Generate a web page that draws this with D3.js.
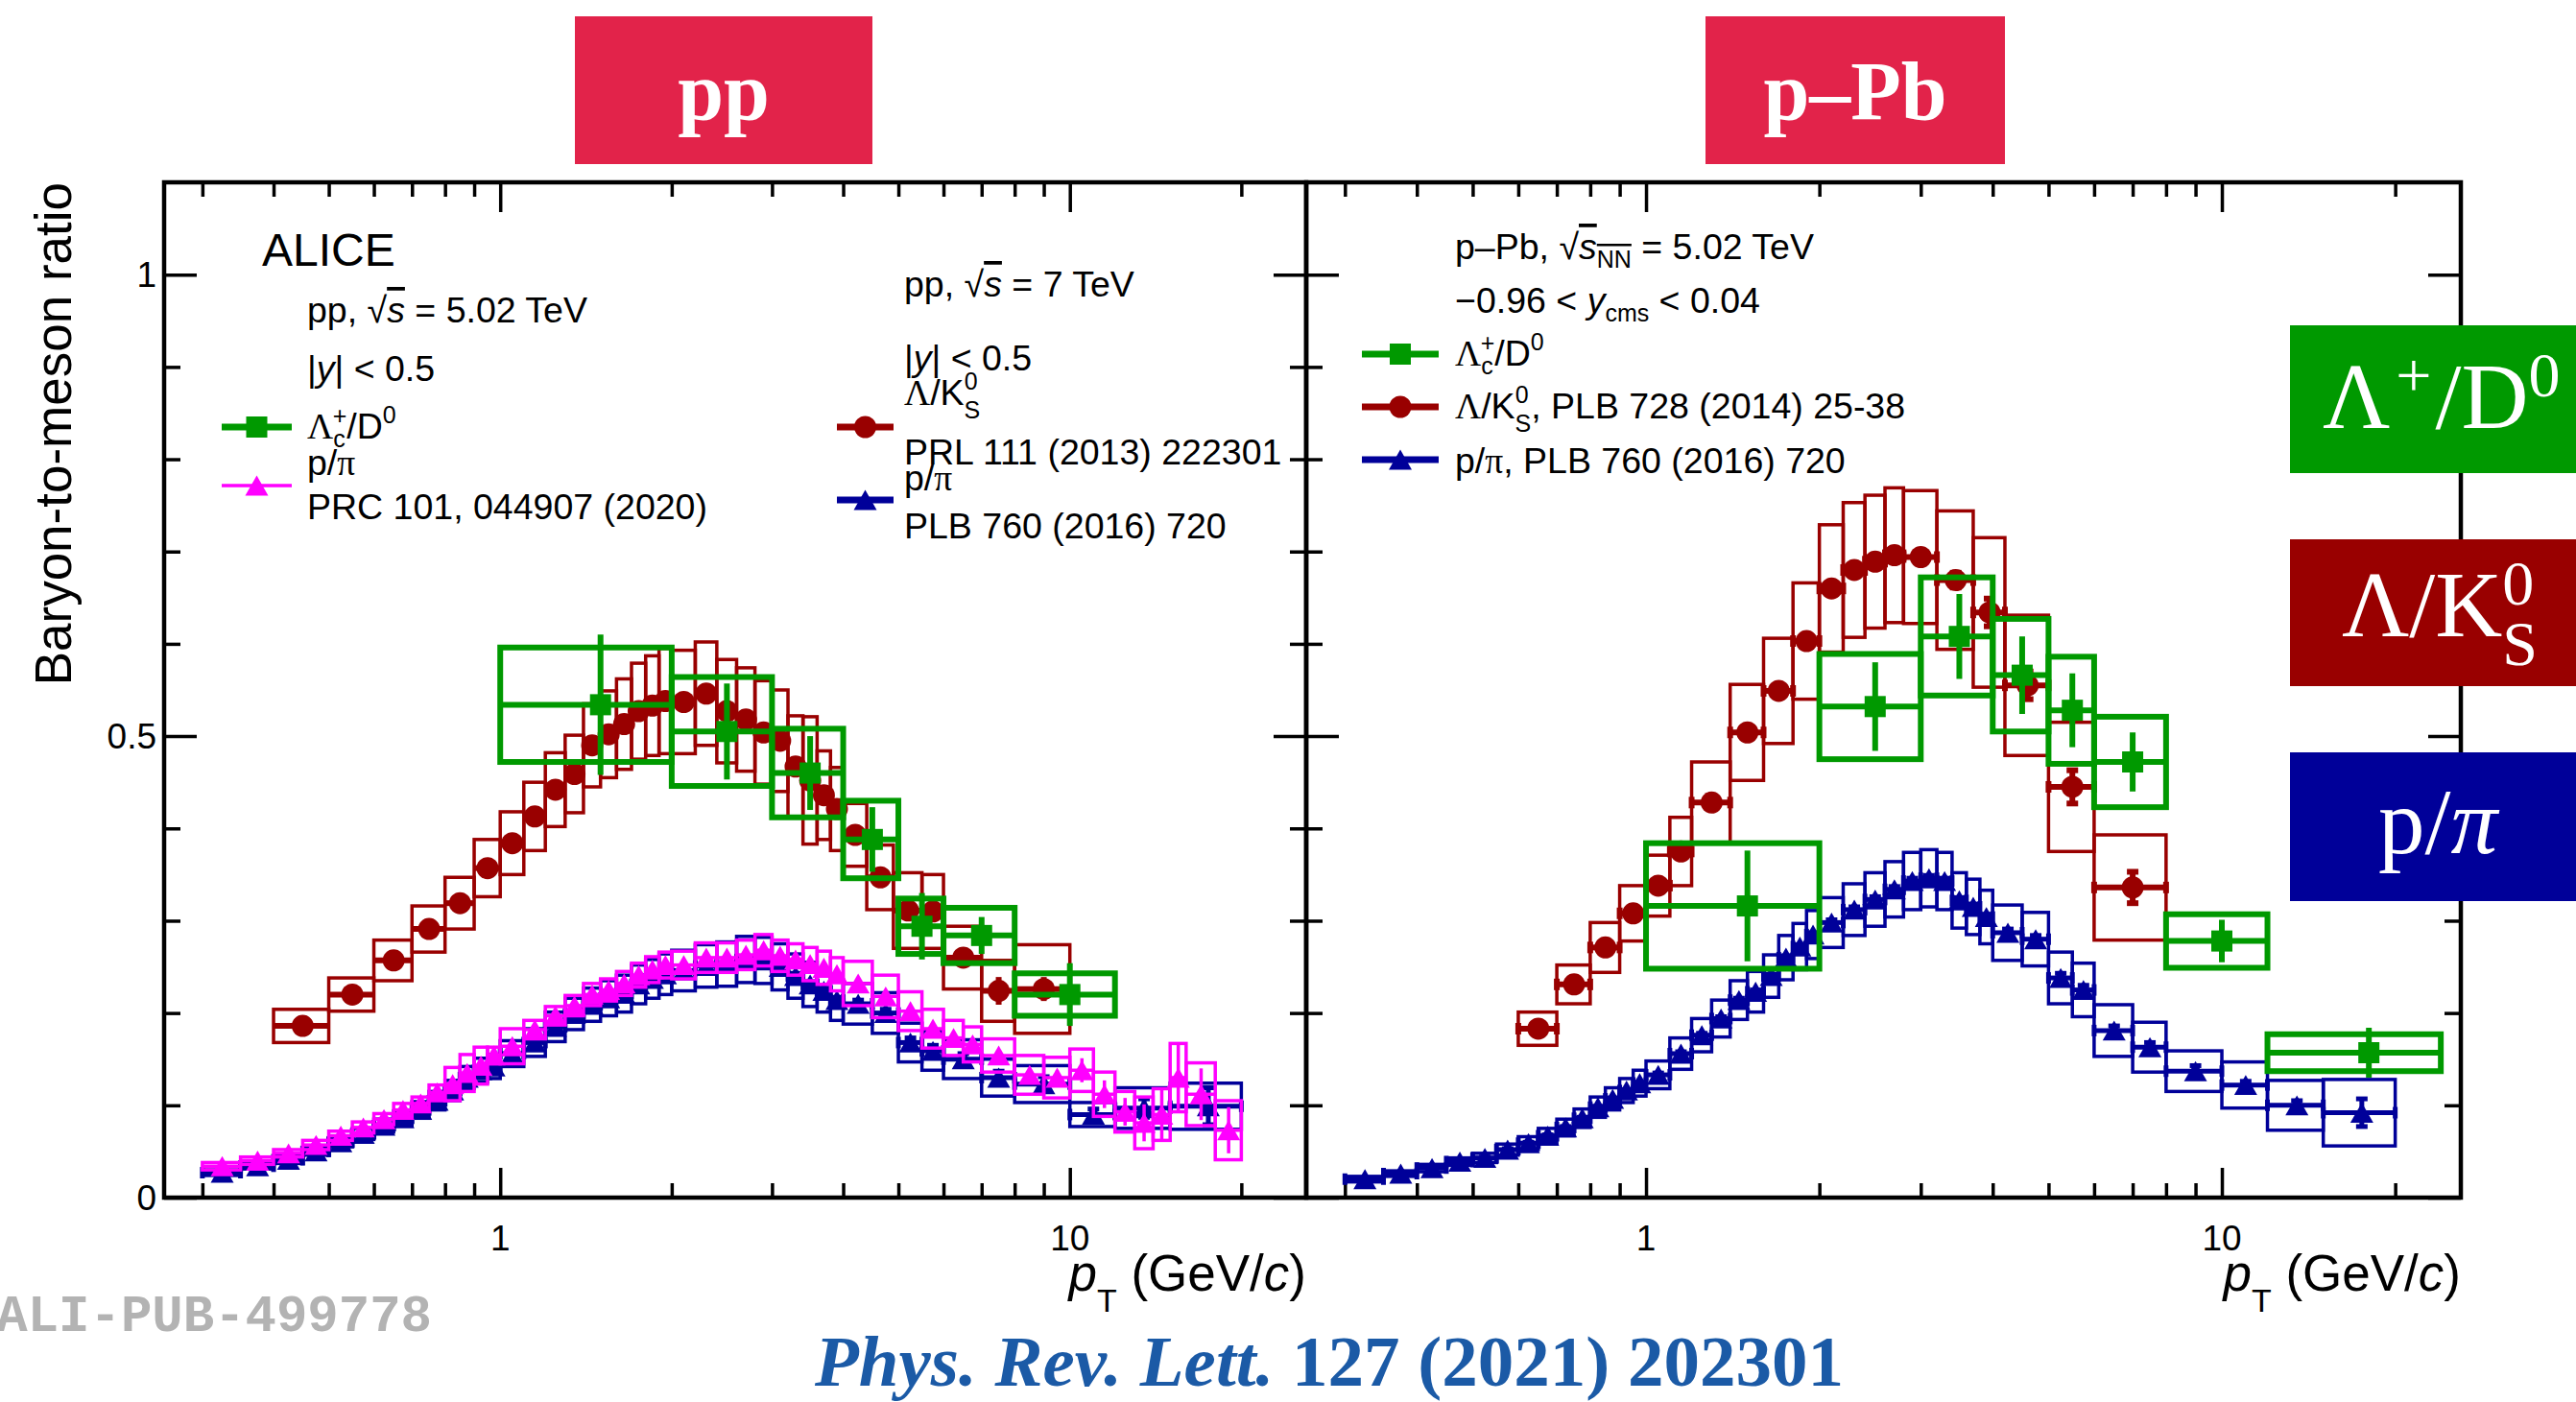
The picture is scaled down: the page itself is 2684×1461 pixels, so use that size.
<!DOCTYPE html>
<html>
<head>
<meta charset="utf-8">
<script src="https://cdn.jsdelivr.net/npm/d3@7"></script>
<style>
body { margin: 0; background: #fff; }
svg { display: block; font-family: "Liberation Sans", Arial, sans-serif; }
</style>
</head>
<body>
<svg id="fig" width="2684" height="1461"></svg>
<script>
// ---- pp 5.02 TeV, Lc+/D0
const ppLcEdges = [1, 2, 3, 4, 5, 6, 8, 12];
const ppLcVal   = [0.534, 0.505, 0.460, 0.388, 0.294, 0.284, 0.220];
const ppLcSys   = [0.062, 0.059, 0.048, 0.042, 0.030, 0.030, 0.023];
const ppLcStat  = [0.076, 0.052, 0.040, 0.035, 0.036, 0.020, 0.034];

// ---- pp 7 TeV, Lambda/K0S (PRL 111 (2013) 222301)
const ppLKEdges = [0.4,0.5,0.6,0.7,0.8,0.9,1.0,1.1,1.2,1.3,1.4,1.5,1.6,1.7,1.8,1.9,2.0,2.2,2.4,2.6,2.8,3.0,3.2,3.4,3.6,3.8,4.0,4.4,4.9,5.5,6.0,7.0,8.0,10.0];
const ppLKVal   = [0.186,0.220,0.257,0.291,0.319,0.357,0.384,0.413,0.442,0.459,0.490,0.502,0.513,0.527,0.533,0.538,0.537,0.546,0.527,0.518,0.504,0.495,0.467,0.452,0.436,0.421,0.393,0.347,0.311,0.310,0.260,0.224,0.226];
const ppLKSys   = [0.018,0.018,0.022,0.025,0.028,0.031,0.034,0.037,0.040,0.042,0.045,0.047,0.049,0.052,0.054,0.057,0.056,0.056,0.056,0.056,0.056,0.055,0.055,0.069,0.048,0.045,0.034,0.035,0.041,0.040,0.034,0.033,0.048];
const ppLKStat  = [0.003,0.003,0.003,0.003,0.003,0.003,0.003,0.003,0.003,0.003,0.003,0.003,0.003,0.003,0.003,0.003,0.003,0.003,0.003,0.004,0.004,0.004,0.004,0.005,0.005,0.005,0.005,0.006,0.007,0.008,0.010,0.015,0.013];

// ---- pp 5.02 TeV, p/pi (PRC 101, 044907 (2020))
const ppPiEdges = [0.3,0.35,0.4,0.45,0.5,0.55,0.6,0.65,0.7,0.75,0.8,0.85,0.9,0.95,1.0,1.1,1.2,1.3,1.4,1.5,1.6,1.7,1.8,1.9,2.0,2.2,2.4,2.6,2.8,3.0,3.2,3.4,3.6,3.8,4.0,4.5,5.0,5.5,6.0,6.5,7.0,8,9,10,11,12,13,14,15,16,18,20];
const ppPiVal   = [0.034,0.040,0.048,0.057,0.067,0.076,0.085,0.095,0.102,0.114,0.123,0.135,0.143,0.154,
                   0.164,0.182,0.197,0.208,0.220,0.225,0.232,0.241,0.247,0.252,
                   0.252,0.260,0.260,0.263,0.268,0.262,0.258,0.253,0.249,0.242,
                   0.232,0.218,0.202,0.183,0.173,0.166,
                   0.154,0.133,0.130,0.138,0.112,0.093,0.081,0.090,0.130,0.112,0.073];
const ppPiSys   = [0.004,0.004,0.004,0.005,0.005,0.006,0.006,0.007,0.007,0.008,0.018,0.020,0.020,0.009,
                   0.019,0.010,0.010,0.011,0.012,0.012,0.013,0.013,0.014,0.014,
                   0.015,0.016,0.016,0.016,0.017,0.017,0.017,0.018,0.018,0.018,
                   0.024,0.023,0.021,0.021,0.019,0.019,
                   0.018,0.021,0.022,0.023,0.024,0.022,0.028,0.028,0.037,0.034,0.032];
const ppPiStat  = [0.001,0.001,0.001,0.001,0.001,0.001,0.001,0.001,0.001,0.001,0.001,0.001,0.001,0.001,
                   0.002,0.002,0.002,0.002,0.002,0.002,0.002,0.002,0.002,0.002,
                   0.002,0.002,0.002,0.002,0.002,0.002,0.002,0.002,0.002,0.002,
                   0.003,0.003,0.003,0.003,0.004,0.004,
                   0.004,0.006,0.008,0.013,0.015,0.015,0.020,0.027,0.036,0.028,0.025];

// ---- pp 7 TeV, p/pi (PLB 760 (2016) 720)
const ppPi7Edges = [0.3,0.35,0.4,0.45,0.5,0.55,0.6,0.65,0.7,0.75,0.8,0.85,0.9,0.95,1.0,1.1,1.2,1.3,1.4,1.5,1.6,1.7,1.8,1.9,2.0,2.2,2.4,2.6,2.8,3.0,3.2,3.4,3.6,3.8,4.0,4.5,5.0,5.5,6.0,7,8,10,12,15,20];
const ppPi7Val   = [0.027,0.034,0.041,0.050,0.060,0.069,0.078,0.086,0.095,0.105,0.116,0.130,0.138,0.142,
                    0.156,0.168,0.185,0.199,0.209,0.216,0.221,0.231,0.237,0.242,
                    0.246,0.251,0.253,0.258,0.257,0.250,0.240,0.231,0.224,0.214,
                    0.210,0.200,0.168,0.159,
                    0.150,0.130,0.123,0.090,0.097,0.099];
const ppPi7Sys   = [0.003,0.003,0.004,0.004,0.005,0.006,0.007,0.008,0.009,0.010,0.011,0.012,0.013,0.013,
                    0.014,0.015,0.016,0.017,0.018,0.019,0.020,0.021,0.021,0.022,
                    0.022,0.023,0.024,0.025,0.025,0.025,0.024,0.024,0.023,0.022,
                    0.022,0.022,0.021,0.021,
                    0.021,0.020,0.020,0.013,0.022,0.025];
const ppPi7Stat  = [0.001,0.001,0.001,0.001,0.001,0.001,0.001,0.001,0.001,0.001,0.001,0.001,0.001,0.001,
                    0.002,0.002,0.002,0.002,0.002,0.002,0.002,0.002,0.002,0.002,
                    0.003,0.003,0.003,0.003,0.003,0.003,0.003,0.003,0.003,0.003,
                    0.004,0.004,0.005,0.006,
                    0.006,0.007,0.008,0.006,0.010,0.020];

// ---- p-Pb 5.02 TeV, Lc+/D0
const pPbLcEdges = [1, 2, 3, 4, 5, 6, 8, 12, 24];
const pPbLcVal   = [0.316, 0.532, 0.608, 0.566, 0.528, 0.472, 0.278, 0.157];
const pPbLcSys   = [0.068, 0.057, 0.064, 0.061, 0.058, 0.049, 0.029, 0.020];
const pPbLcStat  = [0.060, 0.048, 0.046, 0.042, 0.040, 0.032, 0.023, 0.027];

// ---- p-Pb 5.02 TeV, Lambda/K0S (PLB 728 (2014) 25-38)
const pPbLKEdges = [0.6,0.7,0.8,0.9,1.0,1.1,1.2,1.4,1.6,1.8,2.0,2.2,2.4,2.6,2.8,3.2,3.7,4.2,5.0,6.0,8.0];
const pPbLKVal   = [0.183,0.231,0.271,0.308,0.338,0.375,0.428,0.504,0.549,0.603,0.660,0.680,0.689,0.696,0.694,0.669,0.634,0.555,0.445,0.336];
const pPbLKSys   = [0.018,0.021,0.027,0.030,0.033,0.037,0.044,0.052,0.057,0.063,0.069,0.073,0.072,0.073,0.072,0.075,0.081,0.076,0.070,0.057];
const pPbLKStat  = [0.003,0.003,0.003,0.003,0.004,0.004,0.004,0.005,0.005,0.006,0.006,0.006,0.007,0.007,0.007,0.008,0.015,0.015,0.018,0.017];

// ---- p-Pb 5.02 TeV, p/pi (PLB 760 (2016) 720)
const pPbPiEdges = [0.3,0.35,0.4,0.45,0.5,0.55,0.6,0.65,0.7,0.75,0.8,0.85,0.9,0.95,1.0,1.1,1.2,1.3,1.4,1.5,1.6,1.7,1.8,1.9,2.0,2.2,2.4,2.6,2.8,3.0,3.2,3.4,3.6,3.8,4.0,4.5,5.0,5.5,6.0,7,8,10,12,15,20];
const pPbPiVal   = [0.020,0.026,0.032,0.039,0.043,0.052,0.059,0.067,0.076,0.086,0.098,0.107,0.116,0.124,
                    0.133,0.156,0.176,0.194,0.214,0.223,0.240,0.260,0.272,0.285,
                    0.298,0.312,0.323,0.334,0.343,0.346,0.343,0.322,0.315,0.304,
                    0.287,0.280,0.238,0.225,
                    0.181,0.163,0.137,0.122,0.100,0.092];
const pPbPiSys   = [0.003,0.003,0.004,0.004,0.005,0.006,0.007,0.008,0.009,0.010,0.011,0.012,0.013,0.014,
                    0.015,0.017,0.018,0.020,0.021,0.022,0.023,0.024,0.025,0.026,
                    0.027,0.028,0.029,0.030,0.031,0.031,0.031,0.030,0.030,0.029,
                    0.030,0.029,0.028,0.029,
                    0.028,0.027,0.022,0.025,0.027,0.036];
const pPbPiStat  = [0.001,0.001,0.001,0.001,0.001,0.001,0.001,0.001,0.001,0.001,0.001,0.001,0.001,0.001,
                    0.002,0.002,0.002,0.002,0.002,0.002,0.002,0.002,0.002,0.002,
                    0.003,0.003,0.003,0.003,0.003,0.003,0.003,0.003,0.003,0.003,
                    0.004,0.004,0.005,0.005,
                    0.005,0.005,0.006,0.004,0.005,0.015];

// axis ticks
const xMajor = [1, 10];
const xMinor = [0.3,0.4,0.5,0.6,0.7,0.8,0.9,2,3,4,5,6,7,8,9,20];
const yMajor = [0, 0.5, 1];
const yMinor = [0.1,0.2,0.3,0.4,0.6,0.7,0.8,0.9];
const yLabels = ['0', '0.5', '1'];

const GREEN = '#009900', RED = '#990000', BLUE = '#000099', MAG = '#ff00ff';

const svg = d3.select('#fig');
const yTop = 190, yBot = 1248;
const y  = d3.scaleLinear().domain([0, 1.1]).range([yBot, yTop]);
const xL = d3.scaleLog().domain([0.257, 26]).range([171, 1361]);
const xR = d3.scaleLog().domain([0.257, 26]).range([1361, 2564]);

function symPath(type, s) {
    if (type === 'circle') return d3.symbol(d3.symbolCircle, Math.PI * s * s)();
    if (type === 'square') return d3.symbol(d3.symbolSquare, s * s)();
    const h = s * 0.87, w = s / 2;
    return 'M0,' + (-h / 2) + 'L' + w + ',' + (h / 2) + 'L' + (-w) + ',' + (h / 2) + 'Z';
}

function drawSeries(g, x, edges, val, sys, stat, st) {
    const pts = val.map((v, i) => ({lo: edges[i], hi: edges[i + 1], pt: (edges[i] + edges[i + 1]) / 2, v: v, s: sys[i], e: stat[i]}));
    const s = g.append('g');
    s.selectAll('rect.sys').data(pts).join('rect').attr('class', 'sys')
        .attr('x', d => x(d.lo)).attr('width', d => x(d.hi) - x(d.lo))
        .attr('y', d => y(d.v + d.s)).attr('height', d => y(d.v - d.s) - y(d.v + d.s))
        .attr('fill', 'none').attr('stroke', st.color).attr('stroke-width', st.boxW);
    s.selectAll('line.h').data(pts).join('line').attr('class', 'h')
        .attr('x1', d => x(d.lo)).attr('x2', d => x(d.hi))
        .attr('y1', d => y(d.v)).attr('y2', d => y(d.v))
        .attr('stroke', st.color).attr('stroke-width', st.errW);
    s.selectAll('line.v').data(pts).join('line').attr('class', 'v')
        .attr('x1', d => x(d.pt)).attr('x2', d => x(d.pt))
        .attr('y1', d => y(d.v - d.e)).attr('y2', d => y(d.v + d.e))
        .attr('stroke', st.color).attr('stroke-width', st.errW);
    if (st.cap) {
        const c = 6;
        const caps = [];
        pts.forEach(d => {
            caps.push([x(d.lo), y(d.v) - c, x(d.lo), y(d.v) + c]);
            caps.push([x(d.hi), y(d.v) - c, x(d.hi), y(d.v) + c]);
            caps.push([x(d.pt) - c, y(d.v + d.e), x(d.pt) + c, y(d.v + d.e)]);
            caps.push([x(d.pt) - c, y(d.v - d.e), x(d.pt) + c, y(d.v - d.e)]);
        });
        s.selectAll('line.cap').data(caps).join('line').attr('class', 'cap')
            .attr('x1', d => d[0]).attr('y1', d => d[1]).attr('x2', d => d[2]).attr('y2', d => d[3])
            .attr('stroke', st.color).attr('stroke-width', st.errW);
    }
    s.selectAll('path.m').data(pts).join('path').attr('class', 'm')
        .attr('d', symPath(st.marker, st.size))
        .attr('transform', d => 'translate(' + x(d.pt) + ',' + y(d.v) + ')')
        .attr('fill', st.color);
}

function legendEntry(g, x1, x2, yy, st, lw) {
    g.append('line').attr('x1', x1).attr('x2', x2).attr('y1', yy).attr('y2', yy)
        .attr('stroke', st.color).attr('stroke-width', lw);
    g.append('path').attr('d', symPath(st.marker, st.size))
        .attr('transform', 'translate(' + ((x1 + x2) / 2) + ',' + yy + ')').attr('fill', st.color);
}

function rich(g, x, yy, parts, size, extra) {
    const t = g.append('text').attr('x', x).attr('y', yy).attr('font-size', size);
    if (extra) extra(t);
    parts.forEach(p => {
        const s = t.append('tspan').text(p.t);
        if (p.it) s.attr('font-style', 'italic');
        if (p.serif) s.attr('font-family', '"Liberation Serif", serif');
        if (p.fs) s.attr('font-size', p.fs);
        if (p.dy) s.attr('dy', p.dy);
        if (p.dx) s.attr('dx', p.dx);
        if (p.over) s.style('text-decoration', 'overline');
    });
    return t;
}

function panel(x, id) {
    const g = svg.append('g');
    const [x0, x1] = x.range();
    svg.append('clipPath').attr('id', id).append('rect')
        .attr('x', x0).attr('y', yTop).attr('width', x1 - x0).attr('height', yBot - yTop);

    const ax = g.append('g');
    ax.append('g').attr('transform', 'translate(0,' + yBot + ')')
        .call(d3.axisBottom(x).tickValues(xMajor).tickSize(-31).tickSizeOuter(0).tickFormat(''));
    ax.append('g').attr('transform', 'translate(0,' + yBot + ')')
        .call(d3.axisBottom(x).tickValues(xMinor).tickSize(-15).tickSizeOuter(0).tickFormat(''));
    ax.append('g').attr('transform', 'translate(0,' + yTop + ')')
        .call(d3.axisTop(x).tickValues(xMajor).tickSize(-31).tickSizeOuter(0).tickFormat(''));
    ax.append('g').attr('transform', 'translate(0,' + yTop + ')')
        .call(d3.axisTop(x).tickValues(xMinor).tickSize(-15).tickSizeOuter(0).tickFormat(''));
    ax.append('g').attr('transform', 'translate(' + x0 + ',0)')
        .call(d3.axisLeft(y).tickValues(yMajor).tickSize(-34).tickSizeOuter(0).tickFormat(''));
    ax.append('g').attr('transform', 'translate(' + x0 + ',0)')
        .call(d3.axisLeft(y).tickValues(yMinor).tickSize(-17).tickSizeOuter(0).tickFormat(''));
    ax.append('g').attr('transform', 'translate(' + x1 + ',0)')
        .call(d3.axisRight(y).tickValues(yMajor).tickSize(-34).tickSizeOuter(0).tickFormat(''));
    ax.append('g').attr('transform', 'translate(' + x1 + ',0)')
        .call(d3.axisRight(y).tickValues(yMinor).tickSize(-17).tickSizeOuter(0).tickFormat(''));
    ax.selectAll('.domain').remove();
    ax.selectAll('.tick line').attr('stroke', '#000').attr('stroke-width', 3.5);

    g.append('rect').attr('x', x0).attr('y', yTop).attr('width', x1 - x0).attr('height', yBot - yTop)
        .attr('fill', 'none').attr('stroke', '#000').attr('stroke-width', 4.5);

    // x tick labels
    g.selectAll('text.xl').data(xMajor).join('text').attr('class', 'xl')
        .attr('x', d => x(d)).attr('y', 1303).attr('text-anchor', 'middle')
        .attr('font-size', 37).text(d => d);

    // x title
    rich(g, x1, 1345, [{t: 'p', it: true}, {t: 'T', fs: 34, dy: 22}, {t: ' (GeV/', dy: -22}, {t: 'c', it: true}, {t: ')'}], 53,
        t => t.attr('text-anchor', 'end'));

    const data = g.append('g').attr('clip-path', 'url(#' + id + ')');
    return {g: g, data: data};
}

const stGreen = {color: GREEN, boxW: 6, errW: 6, marker: 'square', size: 22};
const stRed   = {color: RED, boxW: 3.5, errW: 6, marker: 'circle', size: 11.5};
const stRedC  = {color: RED, boxW: 3.5, errW: 6, marker: 'circle', size: 11.5, cap: true};
const stBlue  = {color: BLUE, boxW: 3.5, errW: 5, marker: 'triangle', size: 24, cap: true};
const stMag   = {color: MAG, boxW: 3.5, errW: 3.5, marker: 'triangle', size: 24};

// ---- left panel (pp)
const pL = panel(xL, 'clipL');
drawSeries(pL.data, xL, ppPi7Edges, ppPi7Val, ppPi7Sys, ppPi7Stat, stBlue);
drawSeries(pL.data, xL, ppPiEdges, ppPiVal, ppPiSys, ppPiStat, stMag);
drawSeries(pL.data, xL, ppLKEdges, ppLKVal, ppLKSys, ppLKStat, stRed);
drawSeries(pL.data, xL, ppLcEdges, ppLcVal, ppLcSys, ppLcStat, stGreen);

// ---- right panel (p-Pb)
const pR = panel(xR, 'clipR');
drawSeries(pR.data, xR, pPbPiEdges, pPbPiVal, pPbPiSys, pPbPiStat, stBlue);
drawSeries(pR.data, xR, pPbLKEdges, pPbLKVal, pPbLKSys, pPbLKStat, stRedC);
drawSeries(pR.data, xR, pPbLcEdges, pPbLcVal, pPbLcSys, pPbLcStat, stGreen);

// y tick labels + title
svg.selectAll('text.yl').data(yMajor).join('text').attr('class', 'yl')
    .attr('x', 163).attr('y', d => y(d) + 13).attr('text-anchor', 'end')
    .attr('font-size', 37).text((d, i) => yLabels[i]);
svg.append('text').attr('transform', 'translate(74,' + yTop + ') rotate(-90)')
    .attr('text-anchor', 'end').attr('font-size', 53).text('Baryon-to-meson ratio');

// ---- legends, left panel
const lg = svg.append('g');
const SZ = 37.5;
lg.append('text').attr('x', 273).attr('y', 277).attr('font-size', 48).text('ALICE');
rich(lg, 320, 336, [{t: 'pp, '}, {t: '\u221A'}, {t: 's', it: true, over: true}, {t: ' = 5.02 TeV'}], SZ);
rich(lg, 320, 397, [{t: '|'}, {t: 'y', it: true}, {t: '| < 0.5'}], SZ);
const lcParts = [{t: '\u039B', serif: true}, {t: 'c', fs: 25, dy: 9}, {t: '+', fs: 25, dx: -13, dy: -24}, {t: '/D', dy: 15}, {t: '0', fs: 25, dy: -16}];
rich(lg, 320, 457, lcParts, SZ);
legendEntry(lg, 231, 304, 445, stGreen, 7);
rich(lg, 320, 495, [{t: 'p/'}, {t: '\u03C0', serif: true}], SZ);
legendEntry(lg, 231, 304, 506, stMag, 3.5);
rich(lg, 320, 541, [{t: 'PRC 101, 044907 (2020)'}], SZ);

rich(lg, 942, 309, [{t: 'pp, '}, {t: '\u221A'}, {t: 's', it: true, over: true}, {t: ' = 7 TeV'}], SZ);
rich(lg, 942, 386, [{t: '|'}, {t: 'y', it: true}, {t: '| < 0.5'}], SZ);
rich(lg, 942, 422, [{t: '\u039B', serif: true}, {t: '/K'}, {t: '0', fs: 25, dy: -16}, {t: 'S', fs: 25, dx: -14, dy: 30}], SZ);
legendEntry(lg, 872, 931, 445, stRed, 7);
rich(lg, 942, 484, [{t: 'PRL 111 (2013) 222301'}], SZ);
rich(lg, 942, 511, [{t: 'p/'}, {t: '\u03C0', serif: true}], SZ);
legendEntry(lg, 872, 931, 521, stBlue, 7);
rich(lg, 942, 561, [{t: 'PLB 760 (2016) 720'}], SZ);

// ---- legends, right panel
rich(lg, 1516, 270, [{t: 'p\u2013Pb, '}, {t: '\u221A'}, {t: 's', it: true, over: true}, {t: 'NN', fs: 25, dy: 9, over: true}, {t: ' = 5.02 TeV', dy: -9}], SZ);
rich(lg, 1516, 326, [{t: '\u22120.96 < '}, {t: 'y', it: true}, {t: 'cms', fs: 25, dy: 9}, {t: ' < 0.04', dy: -9}], SZ);
rich(lg, 1516, 381, lcParts, SZ);
legendEntry(lg, 1419, 1499, 369, stGreen, 7);
rich(lg, 1516, 436, [{t: '\u039B', serif: true}, {t: '/K'}, {t: '0', fs: 25, dy: -16}, {t: 'S', fs: 25, dx: -14, dy: 30}, {t: ', PLB 728 (2014) 25-38', dy: -14}], SZ);
legendEntry(lg, 1419, 1499, 424, stRedC, 7);
rich(lg, 1516, 493, [{t: 'p/'}, {t: '\u03C0', serif: true}, {t: ', PLB 760 (2016) 720'}], SZ);
legendEntry(lg, 1419, 1499, 479, stBlue, 7);

// ---- system title boxes
const titles = [{t: 'pp', x0: 599, x1: 909}, {t: 'p\u2013Pb', x0: 1777, x1: 2089}];
const tg = svg.append('g');
tg.selectAll('rect').data(titles).join('rect')
    .attr('x', d => d.x0).attr('y', 17).attr('width', d => d.x1 - d.x0).attr('height', 154)
    .attr('fill', '#e2234a');
tg.selectAll('text').data(titles).join('text')
    .attr('x', d => (d.x0 + d.x1) / 2).attr('y', 124).attr('text-anchor', 'middle')
    .attr('font-family', '"Liberation Serif", serif').attr('font-weight', 'bold')
    .attr('font-size', 86).attr('fill', '#fff').text(d => d.t);

// ---- species boxes on the right
const sg = svg.append('g').attr('font-family', '"Liberation Serif", serif').attr('fill', '#fff');
const boxes = [{c: GREEN, y0: 339, y1: 493}, {c: RED, y0: 562, y1: 715}, {c: BLUE, y0: 784, y1: 939}];
sg.selectAll('rect').data(boxes).join('rect')
    .attr('x', 2386).attr('y', d => d.y0).attr('width', 300).attr('height', d => d.y1 - d.y0)
    .attr('fill', d => d.c);
rich(sg, 2420, 446, [{t: '\u039B'}, {t: '+', fs: 66, dy: -33, dx: 6}, {t: '/D', dy: 33, dx: 4}, {t: '0', fs: 66, dy: -33}], 97);
rich(sg, 2440, 663, [{t: '\u039B/K'}, {t: '0', fs: 66, dy: -33}, {t: 'S', fs: 66, dx: -33, dy: 63}], 97);
rich(sg, 2478, 889, [{t: 'p/'}, {t: '\u03C0', it: true}], 97);

// ---- footer
svg.append('text').attr('x', 450).attr('y', 1387).attr('text-anchor', 'end')
    .attr('font-family', '"Liberation Mono", monospace').attr('font-weight', 'bold')
    .attr('font-size', 54).attr('fill', '#b3b3b3').text('ALI-PUB-499778');
rich(svg, 1385, 1444, [{t: 'Phys. Rev. Lett.', it: true}, {t: ' 127 (2021) 202301'}], 75,
    t => t.attr('text-anchor', 'middle').attr('font-family', '"Liberation Serif", serif')
          .attr('font-weight', 'bold').attr('fill', '#1b5aa6'));
</script>
</body>
</html>
